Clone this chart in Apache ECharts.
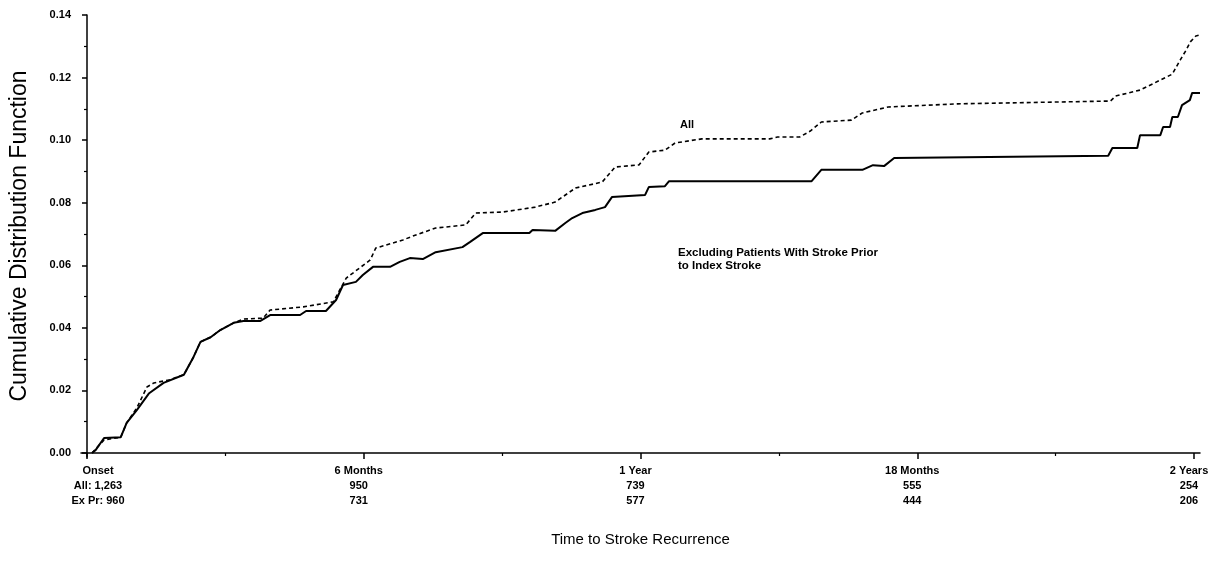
<!DOCTYPE html>
<html>
<head>
<meta charset="utf-8">
<script src="https://cdn.jsdelivr.net/npm/echarts@6/dist/echarts.min.js"></script>
<style>html,body{margin:0;padding:0;background:#fff;}#c{width:1228px;height:567px;}</style>
</head>
<body>
<div id="c"></div>
<script>
// ---- data (months since onset, cumulative distribution value) ----
const tickMonths = [0, 6, 12, 18, 24];
const minorMonths = [3, 9, 15, 21];
const tickNames = ['Onset', '6 Months', '1 Year', '18 Months', '2 Years'];
const atRiskAll = ['All: 1,263', '950', '739', '555', '254'];
const atRiskEx = ['Ex Pr: 960', '731', '577', '444', '206'];
const yTicks = [0, 0.02, 0.04, 0.06, 0.08, 0.10, 0.12, 0.14];
const yMinor = [0.01, 0.03, 0.05, 0.07, 0.09, 0.11, 0.13];

// "All" patients (dashed)
const allTimes = [0.11, 0.37, 0.73, 0.86, 1.08, 1.30, 1.45, 1.77, 2.10, 2.31, 2.46, 2.68, 2.89, 3.18, 3.39, 3.82, 3.97, 4.69, 5.34, 5.62, 6.14, 6.26, 6.85, 7.13, 7.56, 8.21, 8.43, 9.01, 9.72, 10.15, 10.59, 11.17, 11.45, 11.97, 12.18, 12.53, 12.75, 13.33, 14.80, 14.97, 15.45, 15.68, 15.92, 16.57, 16.81, 17.37, 18.88, 22.19, 22.30, 22.83, 23.27, 23.53, 23.70, 23.83, 23.92, 24.04, 24.13];
const allValues = [0.000, 0.0042, 0.005, 0.0096, 0.0144, 0.0211, 0.0224, 0.0233, 0.025, 0.0307, 0.0355, 0.037, 0.0393, 0.0416, 0.0428, 0.0431, 0.0457, 0.0467, 0.0483, 0.0559, 0.0617, 0.0655, 0.0681, 0.0697, 0.0719, 0.0729, 0.0767, 0.077, 0.0786, 0.0802, 0.0847, 0.0866, 0.0914, 0.0921, 0.0962, 0.0968, 0.0991, 0.1004, 0.1004, 0.101, 0.101, 0.1029, 0.1058, 0.1064, 0.1087, 0.1106, 0.1116, 0.1125, 0.1141, 0.116, 0.1192, 0.1211, 0.1256, 0.1288, 0.1314, 0.1333, 0.1336];

// Excluding patients with stroke prior to index stroke (solid)
const exTimes = [0.11, 0.19, 0.37, 0.73, 0.86, 1.08, 1.34, 1.66, 2.10, 2.31, 2.46, 2.68, 2.89, 3.18, 3.39, 3.76, 3.97, 4.62, 4.75, 5.18, 5.40, 5.55, 5.83, 5.98, 6.20, 6.57, 6.78, 7.00, 7.28, 7.56, 8.14, 8.30, 8.58, 9.59, 9.66, 10.15, 10.37, 10.52, 10.74, 11.02, 11.23, 11.38, 12.10, 12.18, 12.53, 12.62, 15.71, 15.92, 16.81, 17.04, 17.28, 17.50, 22.14, 22.23, 22.77, 22.83, 23.27, 23.33, 23.48, 23.53, 23.65, 23.74, 23.91, 23.96, 24.13];
const exValues = [0.000, 0.001, 0.0048, 0.005, 0.0096, 0.0137, 0.019, 0.0224, 0.025, 0.0307, 0.0355, 0.037, 0.0393, 0.0416, 0.0422, 0.0422, 0.0441, 0.0441, 0.0454, 0.0454, 0.0489, 0.0537, 0.0547, 0.0569, 0.0595, 0.0595, 0.0611, 0.0623, 0.062, 0.0642, 0.0658, 0.0674, 0.0703, 0.0703, 0.0713, 0.071, 0.0735, 0.0751, 0.0767, 0.0777, 0.0786, 0.0818, 0.0825, 0.085, 0.0853, 0.0869, 0.0869, 0.0905, 0.0905, 0.092, 0.0917, 0.0943, 0.095, 0.0975, 0.0975, 0.1016, 0.1016, 0.1042, 0.1042, 0.1074, 0.1074, 0.1112, 0.1128, 0.1151, 0.1151];

const FONT = '"Liberation Sans", Arial, Helvetica, sans-serif';
const chart = echarts.init(document.getElementById('c'), null, {renderer: 'canvas'});

const xBase = {
  type: 'value', min: -0.13, max: 24.13, position: 'bottom',
  splitLine: {show: false}
};
const yBase = {
  type: 'value', min: -0.00128, max: 0.14, position: 'left',
  splitLine: {show: false}
};
const lblStyle = {fontFamily: FONT, fontSize: 11, fontWeight: 'bold', color: '#000', lineHeight: 15};

chart.setOption({
  backgroundColor: '#ffffff',
  animation: false,
  grid: {left: 77, right: 28, top: 15, bottom: 110, containLabel: false},
  xAxis: [
    Object.assign({}, xBase, {
      name: 'Time to Stroke Recurrence',
      nameLocation: 'middle', nameGap: 75,
      nameTextStyle: {fontFamily: FONT, fontSize: 15, color: '#000'},
      axisLine: {show: true, lineStyle: {color: '#000', width: 1.5}},
      axisTick: {show: true, customValues: tickMonths, length: 6, lineStyle: {color: '#000', width: 1.5}},
      axisLabel: {
        show: true, customValues: tickMonths, margin: 6,
        formatter: function (v) {
          const i = tickMonths.indexOf(Math.round(v));
          if (i < 0) return '';
          const s = i === 0 ? 'o' : 'a';
          return '{' + s + '|' + tickNames[i] + '}\n{' + s + '|' + atRiskAll[i] + '}\n{' + s + '|' + atRiskEx[i] + '}';
        },
        rich: {
          a: Object.assign({}, lblStyle, {padding: [0, 10, 0, 0]}),
          o: Object.assign({}, lblStyle, {padding: [0, 0, 0, 22]})
        }
      }
    }),
    Object.assign({}, xBase, {
      axisLine: {show: false},
      axisTick: {show: true, customValues: minorMonths, length: 3, lineStyle: {color: '#000', width: 1.2}},
      axisLabel: {show: false}
    })
  ],
  yAxis: [
    Object.assign({}, yBase, {
      name: 'Cumulative Distribution Function',
      nameLocation: 'middle', nameGap: 50,
      nameTextStyle: {fontFamily: FONT, fontSize: 23, color: '#000'},
      axisLine: {show: true, lineStyle: {color: '#000', width: 1.5}},
      axisTick: {show: true, customValues: yTicks, length: 5, lineStyle: {color: '#000', width: 1.5}},
      axisLabel: {
        show: true, customValues: yTicks, margin: 10,
        fontFamily: FONT, fontSize: 11, fontWeight: 'bold', color: '#000',
        formatter: function (v) { return v.toFixed(2); }
      }
    }),
    Object.assign({}, yBase, {
      axisLine: {show: false},
      axisTick: {show: true, customValues: yMinor, length: 3, lineStyle: {color: '#000', width: 1.2}},
      axisLabel: {show: false}
    })
  ],
  series: [
    {
      name: 'All', type: 'line', showSymbol: false, clip: false,
      data: allTimes.map((t, i) => [t, allValues[i]]),
      lineStyle: {color: '#000', width: 1.6, type: [4, 3]}
    },
    {
      name: 'Excluding', type: 'line', showSymbol: false, clip: false,
      data: exTimes.map((t, i) => [t, exValues[i]]),
      lineStyle: {color: '#000', width: 2}
    }
  ],
  graphic: [
    {type: 'text', left: 680, top: 119, style: {text: 'All', fontFamily: FONT, fontSize: 11, fontWeight: 'bold', fill: '#000'}},
    {type: 'text', left: 678, top: 246, style: {text: 'Excluding Patients With Stroke Prior\nto Index Stroke', fontFamily: FONT, fontSize: 11.5, fontWeight: 'bold', fill: '#000', lineHeight: 13}}
  ]
});
</script>
</body>
</html>
